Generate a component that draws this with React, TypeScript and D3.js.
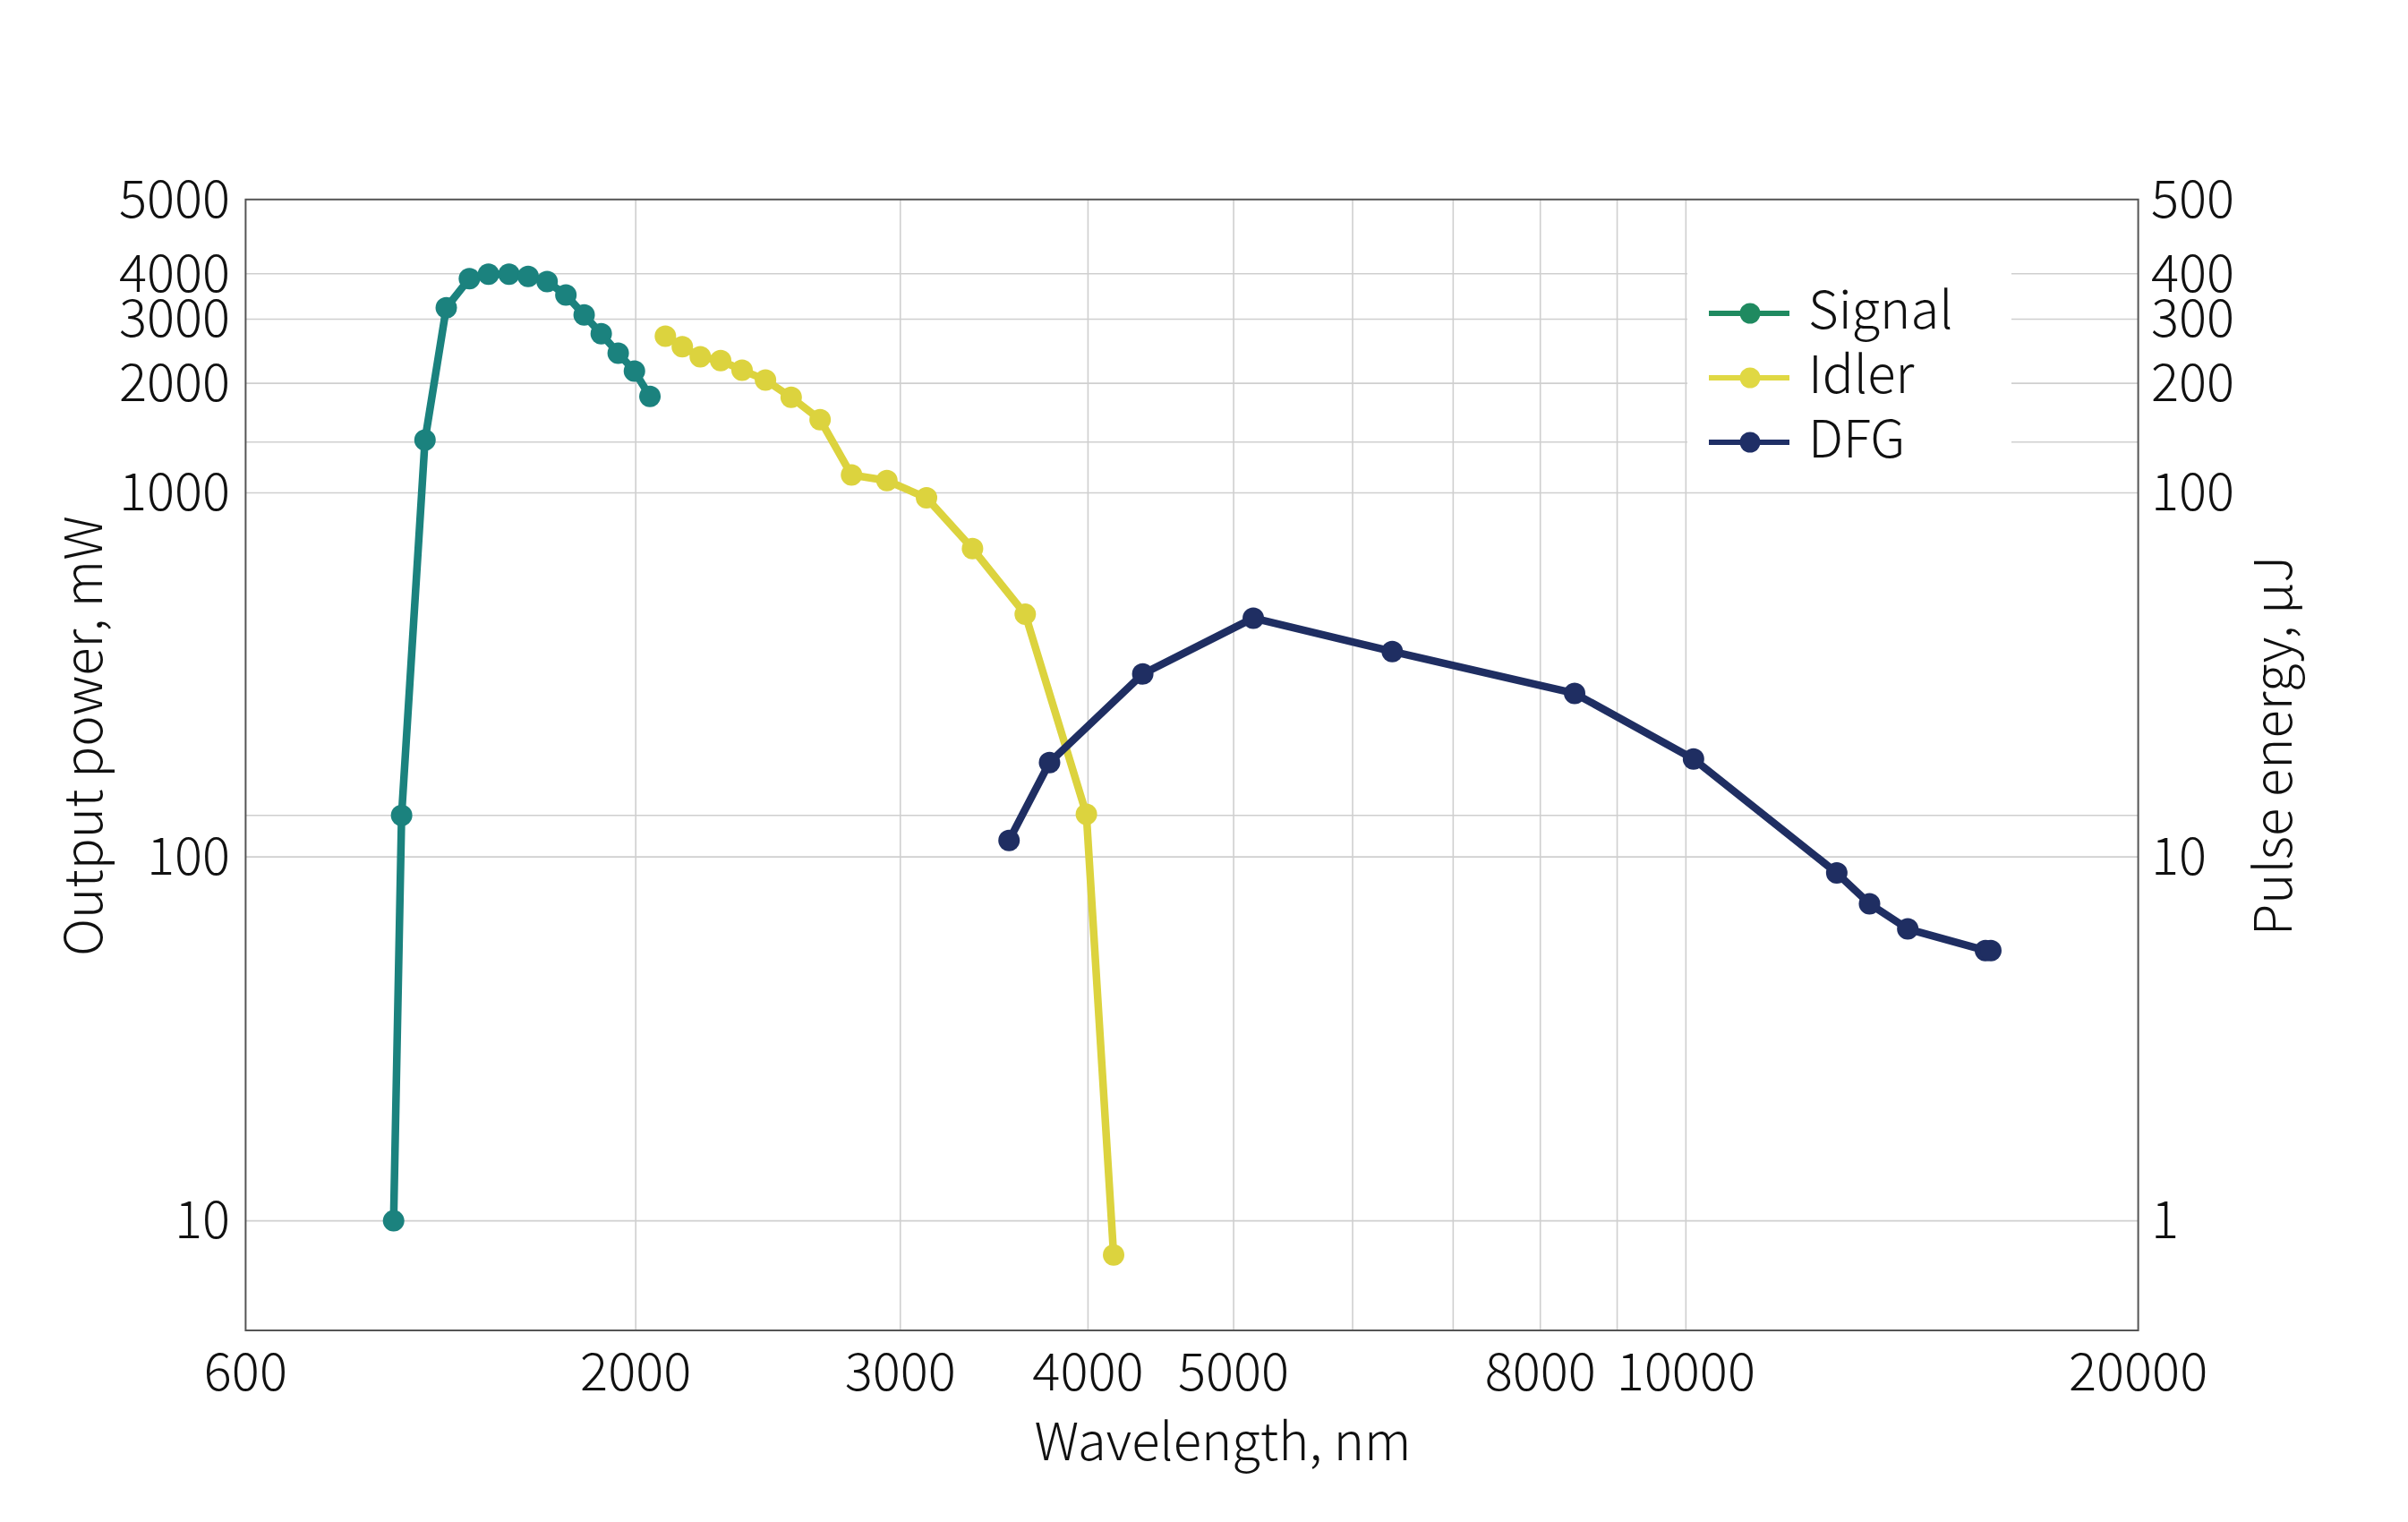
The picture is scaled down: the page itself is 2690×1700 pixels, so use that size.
import * as d3 from 'd3';

const WIDTH = 2690;
const HEIGHT = 1700;
const PLOT = { left: 274.4, right: 2388.6, top: 222.8, bottom: 1486 };

const X_DOMAIN = [1100, 20000];
const Y_DOMAIN = [5, 6400];
// right axis: pulse energy = power / 10
const Y2_DOMAIN = [0.5, 640];

const xTickValues = [1100, 2000, 3000, 4000, 5000, 8000, 10000, 20000];
const xTickLabels = ['600', '2000', '3000', '4000', '5000', '8000', '10000', '20000'];
const xGridValues = [2000, 3000, 4000, 5000, 6000, 7000, 8000, 9000, 10000];

const yTickValues = [10, 100, 1000, 2000, 3000, 4000, 6400];
const yTickLabels = ['10', '100', '1000', '2000', '3000', '4000', '5000'];
const yGridValues = [10, 100, 130, 1000, 1380, 2000, 3000, 4000];

const y2TickValues = [1, 10, 100, 200, 300, 400, 640];
const y2TickLabels = ['1', '10', '100', '200', '300', '400', '500'];

const signalWl = [1380, 1397, 1448, 1496, 1550, 1596, 1647, 1696, 1746, 1797, 1848, 1897, 1947, 1996, 2044];
const signalPower = [10, 130, 1397, 3226, 3880, 3990, 3990, 3933, 3808, 3498, 3083, 2737, 2421, 2161, 1841];

const idlerWl = [2093, 2148, 2208, 2278, 2354, 2440, 2538, 2653, 2784, 2939, 3123, 3351, 3633, 3990, 4160];
const idlerPower = [2696, 2523, 2366, 2310, 2174, 2043, 1831, 1590, 1120, 1081, 969, 703, 464, 131, 8.06];

const dfgWl = [3544, 3771, 4350, 5153, 6376, 8432, 10117, 12601, 13250, 14049, 15826, 15957];
const dfgPower = [111, 181.6, 318, 452.9, 366.6, 281.4, 185.8, 90.3, 74.3, 63.4, 55.3, 55.3];

const SERIES = [
  { name: 'Signal', wl: signalWl, power: signalPower, color: '#1b827e', legendColor: '#1f8a60' },
  { name: 'Idler', wl: idlerWl, power: idlerPower, color: '#dcd33e', legendColor: '#e0d843' },
  { name: 'DFG', wl: dfgWl, power: dfgPower, color: '#1f2e62', legendColor: '#1f2f66' },
];

const FONT = "'Noto Sans CJK SC', 'Noto Sans', sans-serif";
const FONT_SIZE = 58;

const x = d3.scaleLog().domain(X_DOMAIN).range([PLOT.left, PLOT.right]);
const y = d3.scaleLog().domain(Y_DOMAIN).range([PLOT.bottom, PLOT.top]);
const y2 = d3.scaleLog().domain(Y2_DOMAIN).range([PLOT.bottom, PLOT.top]);

const line = d3
  .line<[number, number]>()
  .x((d) => x(d[0]))
  .y((d) => y(d[1]));

export default function App() {
  const legend = { x: 1885, y: 285, w: 362, h: 255 };
  return (
    <svg
      width={WIDTH}
      height={HEIGHT}
      style={{ position: 'absolute', left: 0, top: 0, background: '#fff' }}
      fontFamily={FONT}
      fontWeight={300}
    >
      <rect width={WIDTH} height={HEIGHT} fill="#fff" />

      {/* grid */}
      {xGridValues.map((v) => (
        <line key={'gx' + v} x1={x(v)} x2={x(v)} y1={PLOT.top} y2={PLOT.bottom} stroke="#cfcfcf" strokeWidth={1.6} />
      ))}
      {yGridValues.map((v) => (
        <line key={'gy' + v} x1={PLOT.left} x2={PLOT.right} y1={y(v)} y2={y(v)} stroke="#cfcfcf" strokeWidth={1.6} />
      ))}

      {/* legend background hides grid */}
      <rect x={legend.x} y={legend.y} width={legend.w} height={legend.h} fill="#fff" />

      <rect
        x={PLOT.left}
        y={PLOT.top}
        width={PLOT.right - PLOT.left}
        height={PLOT.bottom - PLOT.top}
        fill="none"
        stroke="#555"
        strokeWidth={2}
      />

      {/* series */}
      {SERIES.map((s) => {
        const pts = s.wl.map((w, i) => [w, s.power[i]] as [number, number]);
        return (
          <g key={s.name}>
            <path d={line(pts) || ''} fill="none" stroke={s.color} strokeWidth={8.5} strokeLinejoin="round" />
            {pts.map((p, i) => (
              <circle key={i} cx={x(p[0])} cy={y(p[1])} r={12} fill={s.color} />
            ))}
          </g>
        );
      })}

      {/* legend */}
      {SERIES.map((s, i) => {
        const base = 367 + 72 * i;
        const ly = base - 17;
        return (
          <g key={'lg' + s.name}>
            <line x1={1909} x2={1999} y1={ly} y2={ly} stroke={s.legendColor} strokeWidth={6} />
            <circle cx={1955} cy={ly} r={11.5} fill={s.legendColor} />
            <text x={2020} y={base} fontSize={FONT_SIZE} fill="#111">
              {s.name}
            </text>
          </g>
        );
      })}

      {/* left axis labels */}
      {yTickValues.map((v, i) => (
        <text key={'yl' + v} x={257} y={y(v)} dy="0.34em" textAnchor="end" fontSize={FONT_SIZE} fill="#111">
          {yTickLabels[i]}
        </text>
      ))}
      {/* right axis labels */}
      {y2TickValues.map((v, i) => (
        <text key={'yr' + v} x={2403} y={y2(v)} dy="0.34em" textAnchor="start" fontSize={FONT_SIZE} fill="#111">
          {y2TickLabels[i]}
        </text>
      ))}
      {/* x axis labels */}
      {xTickValues.map((v, i) => (
        <text key={'xl' + v} x={x(v)} y={1553} textAnchor="middle" fontSize={FONT_SIZE} fill="#111">
          {xTickLabels[i]}
        </text>
      ))}

      {/* titles */}
      <text x={1366} y={1631} textAnchor="middle" fontSize={FONT_SIZE} fill="#111">
        Wavelength, nm
      </text>
      <text transform="translate(114,822) rotate(-90)" textAnchor="middle" fontSize={FONT_SIZE} fill="#111">
        Output power, mW
      </text>
      <text transform="translate(2560,833) rotate(-90)" textAnchor="middle" fontSize={FONT_SIZE} fill="#111">
        Pulse energy, μJ
      </text>
    </svg>
  );
}
